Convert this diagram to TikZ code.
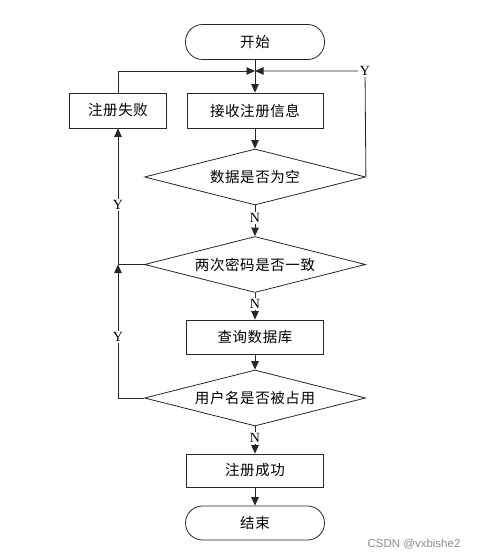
\documentclass[tikz,border=0pt]{standalone}
\usepackage{fontspec}
\setmainfont{Liberation Serif}
\newfontfamily\cjk[LetterSpace=4]{Noto Sans CJK SC}
\newfontfamily\wmfont{Liberation Sans}
\usetikzlibrary{shapes.geometric,arrows.meta}
\begin{document}
\begin{tikzpicture}[x=1pt,y=-1pt,
  line/.style={draw=black!85, line width=0.8pt},
  arr/.style={line, -{Triangle[length=8.5pt,width=7.5pt]}},
  cjktext/.style={font=\cjk\fontsize{14.5}{14.5}\selectfont},
  term/.style={line, cjktext, rectangle, rounded corners=17pt, minimum width=139pt, minimum height=35pt, inner sep=0pt},
  proc/.style={line, cjktext, rectangle, minimum height=35pt, inner sep=0pt},
  dec/.style={line, cjktext, diamond, aspect=4, minimum width=221pt, minimum height=56pt, inner sep=0pt},
  lbl/.style={font=\fontsize{14}{14}\selectfont, fill=white, inner sep=1.5pt}]
\useasboundingbox (0,0) rectangle (481,559);

\node[term] (start) at (255,42) {开始};
\coordinate (m) at (255,71);
\node[proc, minimum width=97pt] (fail) at (118,110.5) {注册失败};
\node[proc, minimum width=136pt] (recv) at (255,110.5) {接收注册信息};
\node[dec] (d1) at (255,177) {数据是否为空};
\node[dec] (d2) at (255,264.5) {两次密码是否一致};
\node[proc, minimum width=137pt, minimum height=34pt] (query) at (255,337) {查询数据库};
\node[dec] (d3) at (255,398) {用户名是否被占用};
\node[proc, minimum width=137pt, minimum height=33pt] (succ) at (255,470.5) {注册成功};
\node[term, minimum height=34pt] (stop) at (255,523) {结束};

\coordinate (cr) at (365,71);
\coordinate (j2) at (fail.south |- d2.west);

% main flow
\draw[arr] (start.south) -- (recv.north);
\draw[arr] (recv.south) -- (d1.north);
\draw[arr] (d1.south) -- (d2.north);
\draw[arr] (d2.south) -- (query.north);
\draw[arr] (query.south) -- (d3.north);
\draw[arr] (d3.south) -- (succ.north);
\draw[arr] (succ.south) -- (stop.north);

% loops back to the top
\draw[arr] (fail.north) |- (m);
\draw[arr] (d1.east) -- (cr) -- (m);

% failure branches
\draw[arr] (d3.west) -| (j2);
\draw[arr] (d2.west) -- (j2) -- (fail.south);

% labels
\node[lbl] (yr) at (cr) {Y};
\node[lbl] (y1) at (118,205) {Y};
\node[lbl] (y2) at (118,337) {Y};
\node[lbl] (n1) at (255,218) {N};
\node[lbl] (n2) at (255,304) {N};
\node[lbl] (n3) at (255,438) {N};

\node[font=\wmfont\fontsize{11.5}{12}\selectfont, text=black!45] (wm) at (414,544) {CSDN @vxbishe2};
\end{tikzpicture}
\end{document}
